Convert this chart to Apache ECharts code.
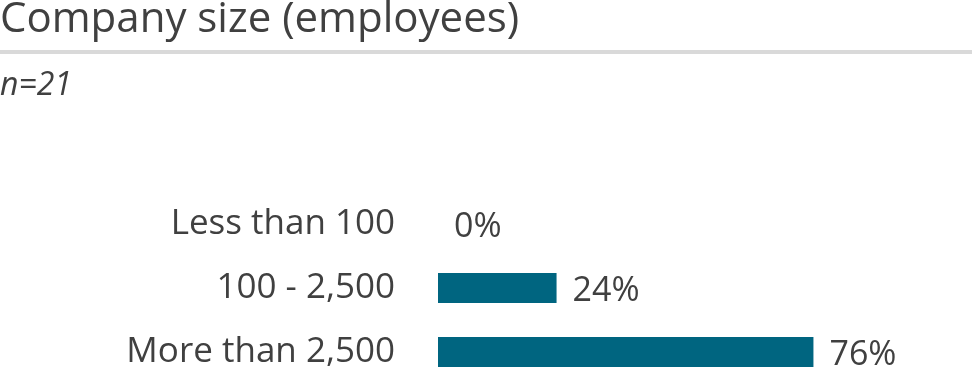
<!DOCTYPE html>
<html>
<head>
<meta charset="utf-8">
<script src="https://cdn.jsdelivr.net/npm/echarts@6/dist/echarts.min.js"></script>
<style>html,body{margin:0;padding:0;background:#fff}#c{width:972px;height:384px}</style>
</head>
<body>
<div id="c"></div>
<script>
const categories = ["Less than 100", "100 - 2,500", "More than 2,500"];
const values = [0, 24, 76];
const titleText = "Company size (employees)";
const subText = "n=21";

const chart = echarts.init(document.getElementById('c'), null, {renderer: 'canvas'});
const FONT = '"Open Sans", sans-serif';
chart.setOption({
  animation: false,
  title: [{
    text: titleText,
    left: 0, top: -1,
    textStyle: {fontFamily: FONT, fontSize: 42, fontWeight: 'normal', color: '#404040'},
    padding: 0
  }, {
    text: subText,
    left: 0, top: 70,
    textStyle: {fontFamily: FONT, fontSize: 32, fontWeight: 'normal', fontStyle: 'italic', color: '#404040'},
    padding: 0
  }],
  graphic: [{
    type: 'rect',
    shape: {x: 0, y: 50, width: 972, height: 4},
    style: {fill: '#d9d9d9'}
  }],
  grid: {left: 438, right: 40, top: 192, height: 198, containLabel: false},
  xAxis: {type: 'value', min: 0, max: 100, show: false},
  yAxis: {
    type: 'category', data: categories, inverse: true,
    axisLine: {show: false}, axisTick: {show: false}, splitLine: {show: false},
    axisLabel: {fontFamily: FONT, fontSize: 35, color: '#404040', margin: 43}
  },
  series: [{
    type: 'bar', data: values, barWidth: 30,
    itemStyle: {color: '#006580'},
    label: {
      show: true, position: 'right', distance: 16,
      formatter: p => p.value + '%',
      fontFamily: FONT, fontSize: 34, color: '#404040',
      offset: [0, 3]
    }
  }]
});
</script>
</body>
</html>
